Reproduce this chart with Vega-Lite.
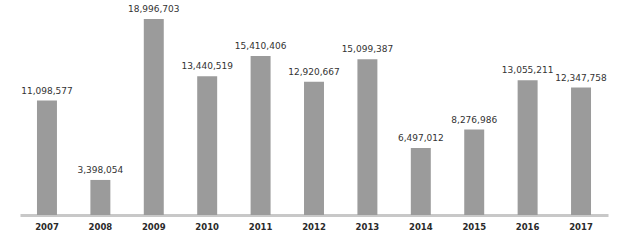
{
  "$schema": "https://vega.github.io/schema/vega-lite/v6.json",
  "width": 588,
  "height": 196,
  "autosize": {"type": "none"},
  "padding": {"left": 20, "top": 19, "right": 16, "bottom": 29},
  "background": "white",
  "config": {"view": {"stroke": null}},
  "data": {"values": [
    {"year": "2007", "value": 11098577},
    {"year": "2008", "value": 3398054},
    {"year": "2009", "value": 18996703},
    {"year": "2010", "value": 13440519},
    {"year": "2011", "value": 15410406},
    {"year": "2012", "value": 12920667},
    {"year": "2013", "value": 15099387},
    {"year": "2014", "value": 6497012},
    {"year": "2015", "value": 8276986},
    {"year": "2016", "value": 13055211},
    {"year": "2017", "value": 12347758}
  ]},
  "encoding": {
    "x": {"field": "year", "type": "ordinal",
      "scale": {"paddingInner": 0.626, "paddingOuter": 0.318},
      "axis": {"title": null, "labelAngle": 0, "ticks": false, "domainColor": "#c8c8c8", "domainWidth": 3,
        "labelFont": "DejaVu Sans", "labelFontSize": 8.5, "labelFontWeight": "bold", "labelColor": "#2a2a2a", "labelPadding": 7}},
    "y": {"field": "value", "type": "quantitative",
      "scale": {"domain": [0, 19000000], "nice": false}, "axis": null}
  },
  "layer": [
    {"mark": {"type": "bar", "color": "#9b9b9b"}},
    {"mark": {"type": "text", "baseline": "bottom", "dy": -5, "font": "DejaVu Sans", "fontSize": 9, "color": "#333333"},
      "encoding": {"text": {"field": "value", "type": "quantitative", "format": ","}}}
  ]
}
